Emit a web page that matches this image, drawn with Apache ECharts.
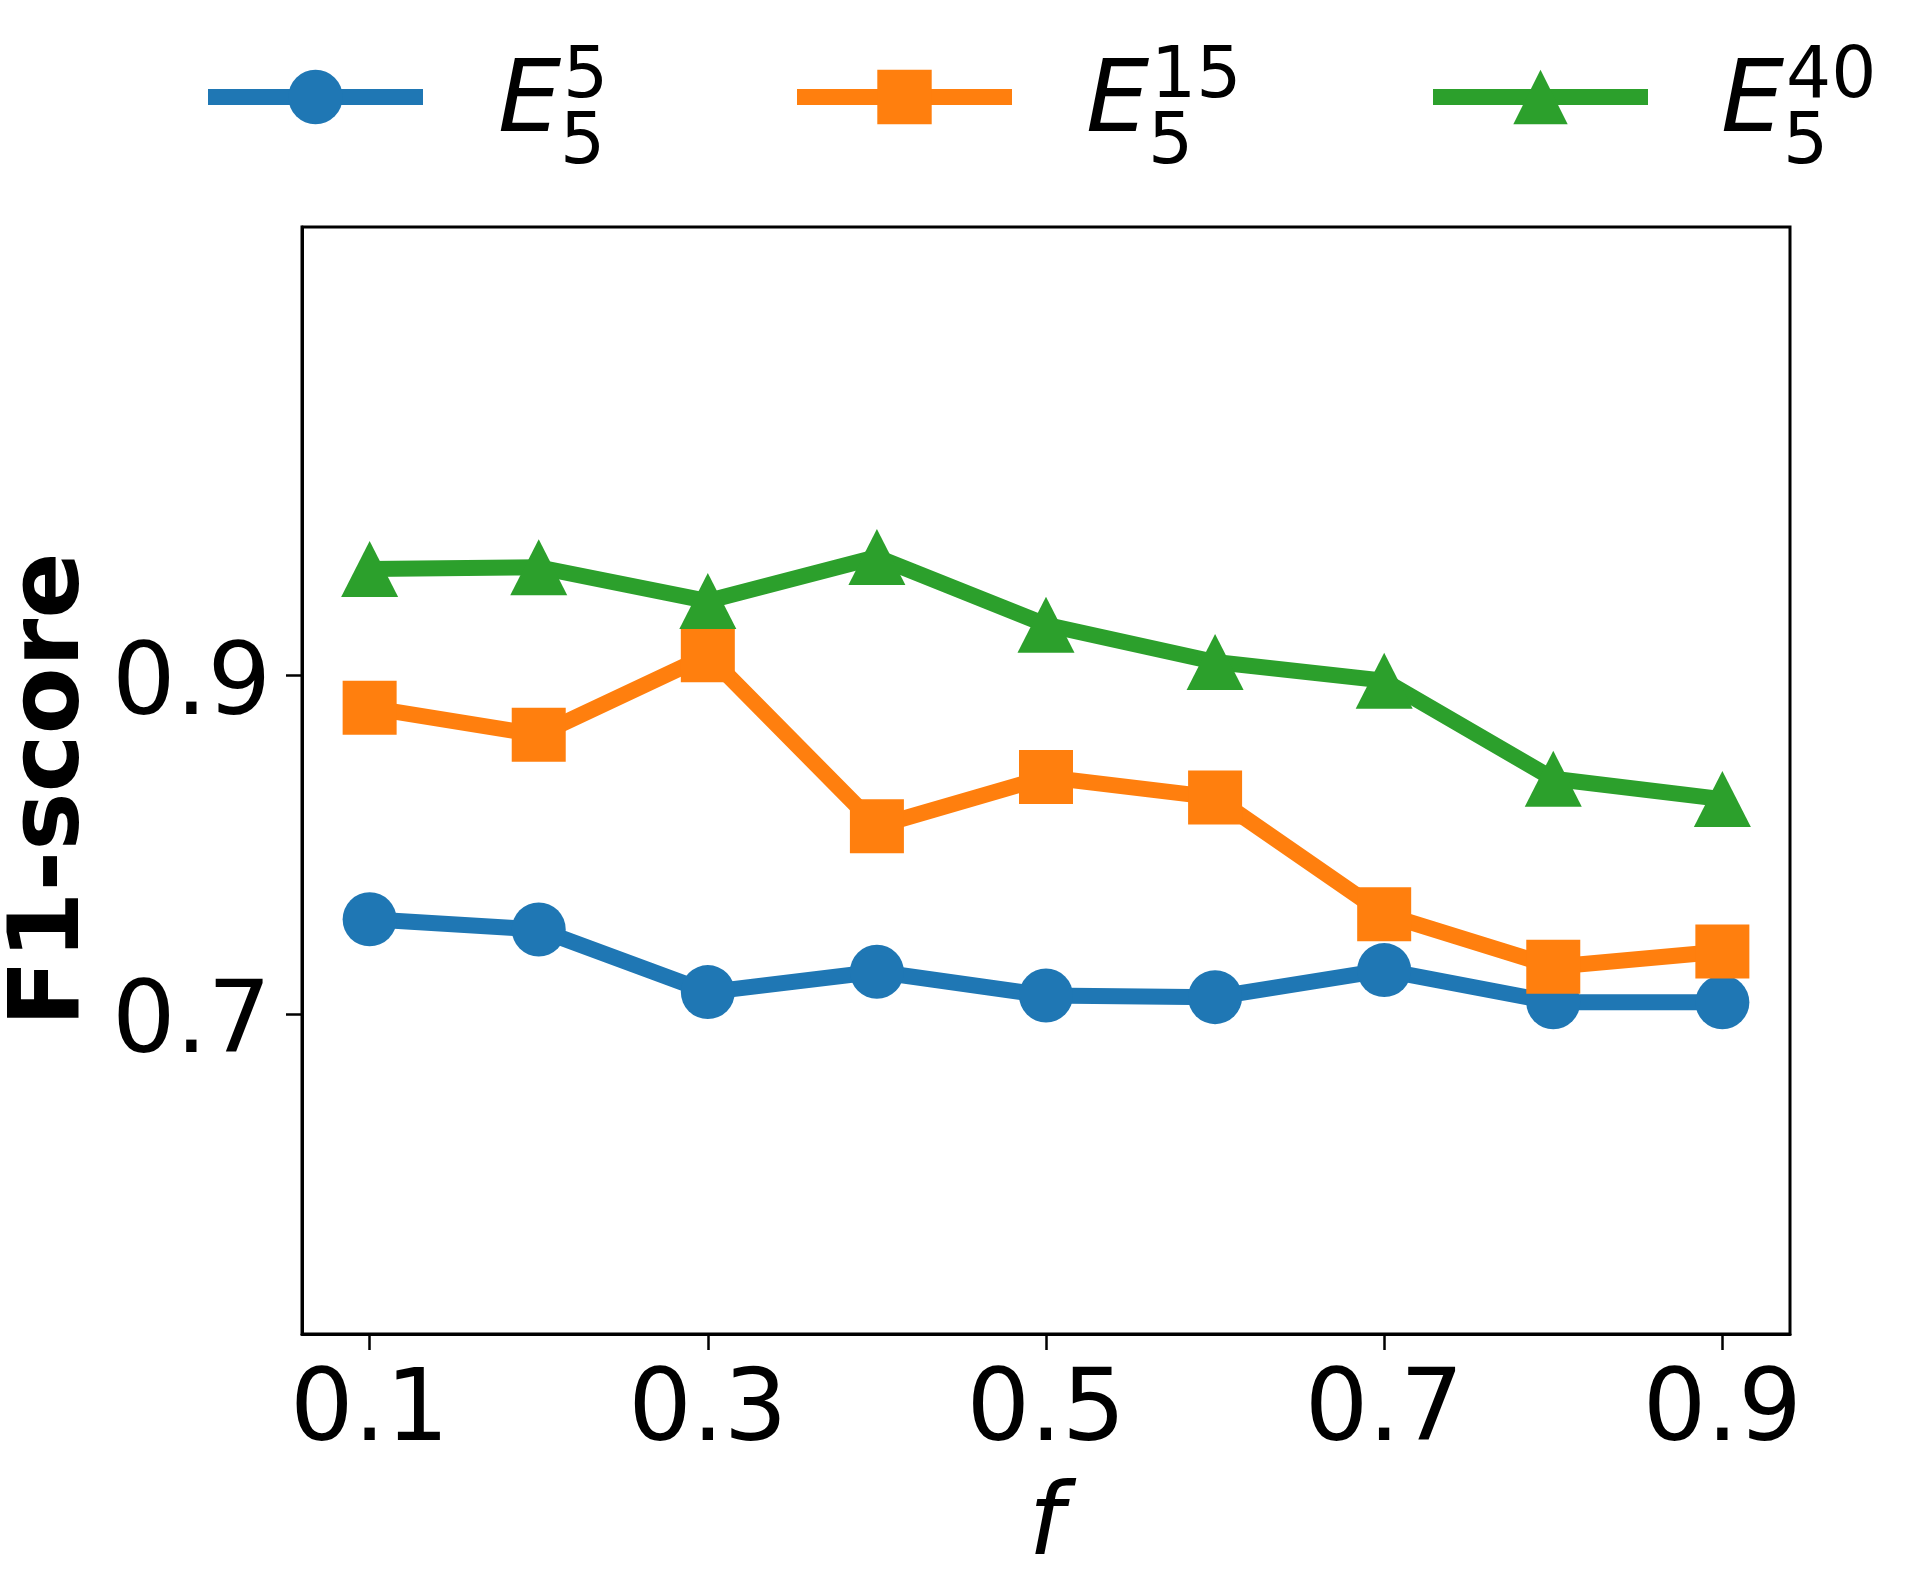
<!DOCTYPE html>
<html>
<head>
<meta charset="utf-8">
<script src="https://cdn.jsdelivr.net/npm/echarts@6/dist/echarts.min.js"></script>
<style>
  html, body { margin: 0; padding: 0; background: #fff; }
  #chart { width: 1916px; height: 1575px; }
</style>
</head>
<body>
<div id="chart"></div>
<script>
const fValues = [0.1, 0.2, 0.3, 0.4, 0.5, 0.6, 0.7, 0.8, 0.9];
const e5 = [0.756, 0.750, 0.713, 0.725, 0.711, 0.710, 0.726, 0.707, 0.707];
const e15 = [0.881, 0.865, 0.912, 0.811, 0.840, 0.828, 0.759, 0.728, 0.737];
const e40 = [0.963, 0.964, 0.944, 0.970, 0.930, 0.908, 0.897, 0.839, 0.827];
const xTicks = [0.1, 0.3, 0.5, 0.7, 0.9];
const yTicks = [0.7, 0.9];
const seriesNames = ['E5_5', 'E5_15', 'E5_40'];
const supLabels = ['5', '15', '40'];

const font = 'DejaVu Sans';
const colors = ['#1f77b4', '#ff7f0e', '#2ca02c'];
const symbols = ['circle', 'rect', 'triangle'];

const pairs = (ys) => ys.map((y, i) => [fValues[i], y]);

// legend icon and label positions
const legendLeft = [200, 789, 1425];
const textLeft = [498, 1086, 1721];

const chart = echarts.init(document.getElementById('chart'));

const legendLabels = [];
supLabels.forEach((s, i) => {
  legendLabels.push({
    type: 'text', left: textLeft[i], top: 105 - 50,
    style: { text: 'E', font: 'italic 100px "DejaVu Sans"', fill: '#000' }
  });
  legendLabels.push({
    type: 'text', left: textLeft[i] + 65, top: 78 - 35,
    style: { text: s, font: '71px "DejaVu Sans"', fill: '#000' }
  });
  legendLabels.push({
    type: 'text', left: textLeft[i] + 62, top: 144 - 35,
    style: { text: '5', font: '71px "DejaVu Sans"', fill: '#000' }
  });
});

const option = {
  backgroundColor: '#fff',
  animation: false,
  textStyle: { fontFamily: font },
  grid: {
    left: 302, right: 126, top: 227, bottom: 241,
    outerBoundsMode: 'none',
    show: true, borderColor: '#000', borderWidth: 3, backgroundColor: 'transparent'
  },
  legend: seriesNames.map((n, i) => ({
    data: [n],
    left: legendLeft[i],
    top: 63,
    padding: 0,
    itemWidth: 215,
    itemHeight: 68,
    formatter: () => '',
    lineStyle: { width: 16 },
    selectedMode: false
  })),
  xAxis: {
    type: 'value',
    min: 0.06,
    max: 0.94,
    name: 'f',
    nameLocation: 'middle',
    nameGap: 144,
    nameTextStyle: { fontSize: 100, fontStyle: 'italic', color: '#000', fontFamily: font },
    axisLine: { show: true, lineStyle: { color: '#000', width: 3 } },
    axisTick: { show: true, length: 16, lineStyle: { color: '#000', width: 2.5 }, customValues: xTicks },
    axisLabel: {
      fontSize: 100, color: '#000', margin: 30, customValues: xTicks,
      formatter: (v) => v.toFixed(1)
    },
    splitLine: { show: false }
  },
  yAxis: {
    type: 'value',
    min: 0.511,
    max: 1.165,
    name: 'F1-score',
    nameLocation: 'middle',
    nameGap: 194,
    nameTextStyle: {
      fontSize: 98, fontWeight: 'bold', color: '#000', fontFamily: font,
      padding: [0, 18, 0, 0]
    },
    axisLine: { show: true, lineStyle: { color: '#000', width: 3 } },
    axisTick: { show: true, length: 16, lineStyle: { color: '#000', width: 2.5 }, customValues: yTicks },
    axisLabel: {
      fontSize: 100, color: '#000', margin: 31, customValues: yTicks,
      verticalAlign: 'top', lineHeight: 24,
      formatter: (v) => v.toFixed(1)
    },
    splitLine: { show: false }
  },
  graphic: legendLabels,
  series: [e5, e15, e40].map((ys, i) => ({
    name: seriesNames[i],
    type: 'line',
    data: pairs(ys),
    symbol: symbols[i],
    symbolSize: i === 2 ? [57, 56] : 54,
    showSymbol: true,
    lineStyle: { color: colors[i], width: 16 },
    itemStyle: { color: colors[i] },
    emphasis: { disabled: true }
  }))
};

chart.setOption(option);
</script>
</body>
</html>
